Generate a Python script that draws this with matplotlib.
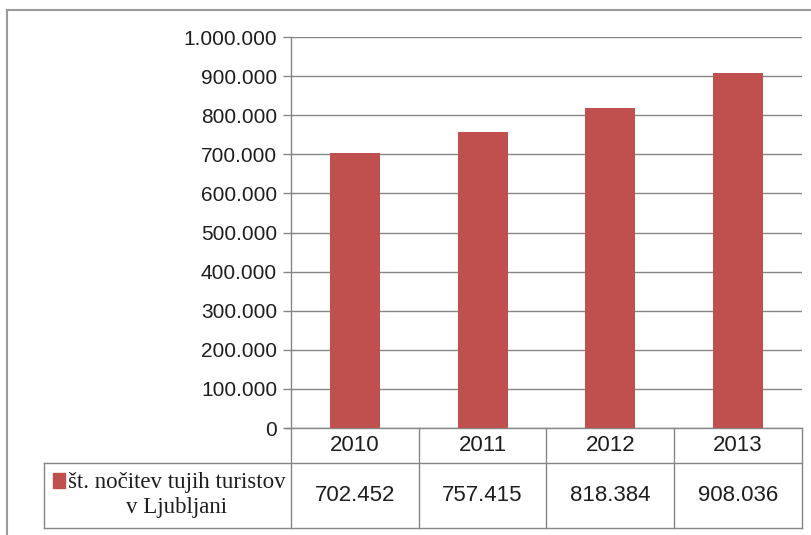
import matplotlib.pyplot as plt
from matplotlib.lines import Line2D
from matplotlib.patches import Rectangle
from matplotlib.ticker import FuncFormatter, MultipleLocator

years = ['2010', '2011', '2012', '2013']
nights = [702452, 757415, 818384, 908036]
series_name = 'št. nočitev tujih turistov\nv Ljubljani'

bar_color = '#C0504D'
grid_color = '#868686'
text_color = '#1e1e1e'
num_font = 'Liberation Sans'
txt_font = 'Liberation Serif'


def dots(v, pos=None):
    # thousands separated with dots
    return f'{int(v):,}'.replace(',', '.')


fig = plt.figure(figsize=(8.12, 5.35), dpi=100)
ax = fig.add_axes([291 / 812, 1 - 428 / 535, 511 / 812, 391 / 535])

x = range(len(years))
ax.bar(x, nights, width=0.39, color=bar_color, zorder=3)

ax.set_xlim(-0.5, len(years) - 0.5)
ax.set_ylim(0, 1000000)
ax.yaxis.set_major_locator(MultipleLocator(100000))
ax.yaxis.set_major_formatter(FuncFormatter(dots))
ax.grid(axis='y', color=grid_color, linewidth=1.0, zorder=0)
ax.set_xticks([])
ax.tick_params(axis='y', length=6, width=1.0, color=grid_color,
               labelsize=15, labelcolor=text_color, pad=4)
for lab in ax.get_yticklabels():
    lab.set_fontfamily(num_font)

for side in ['top', 'right', 'bottom']:
    ax.spines[side].set_visible(False)
ax.spines['left'].set_color(grid_color)
ax.spines['left'].set_linewidth(1.0)

# data table under the plot
tr = ax.get_xaxis_transform()
hdr_bot = -34.7 / 391
tab_bot = -100 / 391
left_x = -0.5 + (44 - 291) / 511 * len(years)
right_x = len(years) - 0.5
lw = dict(color=grid_color, linewidth=1.0, clip_on=False, transform=tr)

ax.add_line(Line2D([-0.5 - 0.05, right_x], [0, 0], **lw))
ax.add_line(Line2D([left_x, right_x], [hdr_bot, hdr_bot], **lw))
ax.add_line(Line2D([left_x, right_x], [tab_bot, tab_bot], **lw))
ax.add_line(Line2D([left_x, left_x], [hdr_bot, tab_bot], **lw))
for i in range(len(years) + 1):
    xb = i - 0.5
    ax.add_line(Line2D([xb, xb], [0, tab_bot], **lw))

for i, (yr, v) in enumerate(zip(years, nights)):
    ax.text(i, hdr_bot / 2, yr, transform=tr, ha='center', va='center',
            fontsize=16, family=num_font, color=text_color)
    ax.text(i, (hdr_bot + tab_bot) / 2, dots(v), transform=tr, ha='center',
            va='center', fontsize=16, family=num_font, color=text_color)

# legend key inside the first table cell
fig.patches.append(Rectangle((53 / 812, 1 - 488 / 535), 12 / 812, 15 / 535,
                             transform=fig.transFigure, color=bar_color))
fig.text(177 / 812, 1 - 495 / 535, series_name, ha='center', va='center',
         multialignment='center', fontsize=16.5, family=txt_font,
         color=text_color, linespacing=1.2)

# outer chart frame
fig.add_artist(Line2D([7 / 812, 1], [1 - 10 / 535, 1 - 10 / 535],
                      transform=fig.transFigure, color='#9a9a9a', linewidth=1.5))
fig.add_artist(Line2D([7 / 812, 7 / 812], [0, 1 - 10 / 535],
                      transform=fig.transFigure, color='#9a9a9a', linewidth=1.5))

fig.savefig('out.png', dpi=100)
